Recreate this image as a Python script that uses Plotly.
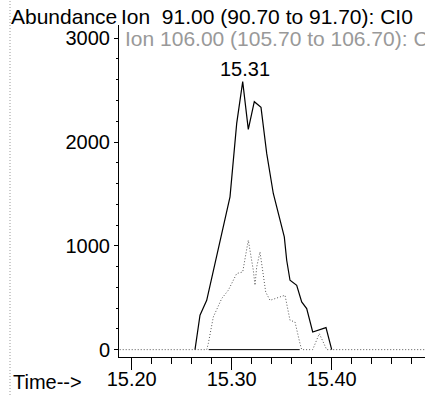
import plotly.graph_objects as go

# ---- data ----
time_91 = [15.2633, 15.2683, 15.275, 15.2866, 15.2983, 15.305, 15.311, 15.3166,
           15.3226, 15.3293, 15.335, 15.3416, 15.3476, 15.3526, 15.355, 15.3583,
           15.365, 15.370, 15.375, 15.381, 15.3943, 15.400]
abund_91 = [0, 331, 475, 958, 1472, 2179, 2581, 2122,
            2388, 2334, 1890, 1504, 1279, 1086, 861, 668,
            620, 459, 395, 170, 212, 0]

time_106 = [15.188, 15.275, 15.2766, 15.2816, 15.290, 15.2966, 15.305, 15.311,
            15.3166, 15.3216, 15.3233, 15.325, 15.3283, 15.3316, 15.334, 15.3383,
            15.3533, 15.3583, 15.3633, 15.3683, 15.370, 15.381, 15.3876, 15.395, 15.493]
abund_106 = [0, 0, 58, 314, 492, 572, 733, 748,
             1054, 765, 620, 797, 941, 733, 555, 475,
             524, 283, 266, 58, 0, 0, 154, 0, 0]

time_base = [15.277, 15.368]
abund_base = [0, 0]

y_ticks = [0, 1000, 2000, 3000]
y_tick_labels = ["0", "1000", "2000", "3000"]
x_ticks = [15.20, 15.30, 15.40]
x_tick_labels = ["15.20", "15.30", "15.40"]

peak_time = 15.31
peak_label = "15.31"
title_91 = "Ion\u00a0 91.00 (90.70 to 91.70): CI0"
title_106 = "Ion 106.00 (105.70 to 106.70): CI0"

# ---- layout geometry (pixels) ----
W, H = 425, 395
L, R, T, B = 119, 0, 25, 38
PW, PH = W - L - R, H - T - B
FONT = "Liberation Sans, Arial, sans-serif"


def px(x):
    return (x - L) / PW


def py(y):
    return (H - B - y) / PH


fig = go.Figure()
fig.add_trace(go.Scatter(x=time_106, y=abund_106, mode="lines",
                         line=dict(color="#555555", width=1, dash="1px,2px"),
                         hoverinfo="skip"))
fig.add_trace(go.Scatter(x=time_base, y=abund_base, mode="lines",
                         line=dict(color="black", width=1), hoverinfo="skip"))
fig.add_trace(go.Scatter(x=time_91, y=abund_91, mode="lines",
                         line=dict(color="black", width=1.2), hoverinfo="skip"))

fig.update_layout(
    width=W, height=H, autosize=False,
    margin=dict(l=L, r=R, t=T, b=B, pad=0, autoexpand=False),
    paper_bgcolor="white", plot_bgcolor="white",
    showlegend=False,
    font=dict(family=FONT, size=20, color="black"),
    xaxis=dict(range=[15.1873, 15.4933], showgrid=False, zeroline=False,
               automargin=False,
               showline=True, linecolor="black", linewidth=1,
               ticks="outside", ticklen=12, tickwidth=1, tickcolor="black",
               tickvals=x_ticks, ticktext=x_tick_labels,
               ticklabelstandoff=-8,
               tickfont=dict(size=20, family=FONT),
               minor=dict(dtick=0.02, tick0=15.20, ticks="outside", ticklen=6,
                          tickwidth=1, tickcolor="black", showgrid=False)),
    yaxis=dict(range=[-71, 3127], showgrid=False, zeroline=False,
               automargin=False,
               showline=True, linecolor="black", linewidth=1,
               ticks="outside", ticklen=4, tickwidth=1, tickcolor="black",
               tickvals=y_ticks, ticktext=y_tick_labels,
               tickfont=dict(size=20, family=FONT),
               minor=dict(dtick=200, tick0=0, ticks="outside", ticklen=2,
                          tickwidth=1, tickcolor="black", showgrid=False)),
)

annots = [
    dict(text="Abundance", x=px(119), y=py(16), xanchor="right", yanchor="middle",
         font=dict(size=21, color="black")),
    dict(text=title_91, x=px(119), y=py(16), xanchor="left", yanchor="middle",
         font=dict(size=21, color="black")),
    dict(text=title_106, x=px(123), y=py(39), xanchor="left", yanchor="middle",
         font=dict(size=21, color="#999999")),
    dict(text="Time-->", x=px(11), y=py(382), xanchor="left", yanchor="middle",
         font=dict(size=20, color="black")),
]
for a in annots:
    a.update(xref="paper", yref="paper", showarrow=False)
    fig.add_annotation(**a)

fig.add_annotation(text=peak_label, x=peak_time, y=max(abund_91), xref="x", yref="y",
                   xanchor="center", yanchor="bottom", yshift=0, xshift=3,
                   showarrow=False, font=dict(size=20, color="black"))

# scanned page edge (dotted border on the left)
fig.add_shape(type="line", xref="paper", yref="paper",
              x0=px(10), x1=px(10), y0=py(H), y1=py(0),
              line=dict(color="#999999", width=1, dash="1px,2px"))

fig.write_html("out.html",
               config={"displayModeBar": False, "staticPlot": True},
               post_script="document.body.style.margin='0';"
                           "document.body.style.overflow='hidden';")
